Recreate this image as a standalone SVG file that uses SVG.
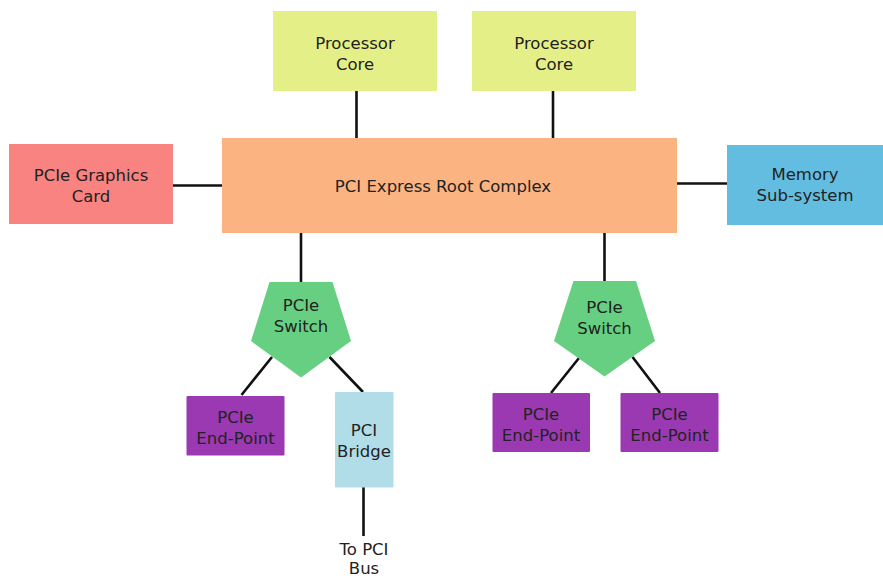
<svg xmlns="http://www.w3.org/2000/svg" width="883" height="579" viewBox="0 0 883 579">
<style>
text{font-family:"DejaVu Sans","Liberation Sans",sans-serif;font-size:16.5px;fill:#222;text-anchor:middle}
.c{stroke:#111;stroke-width:2.6;fill:none}
.proc{fill:#e4f087}.root{fill:#fbb382}.gfx{fill:#f98380}.mem{fill:#63bde0}
.sw{fill:#67cf81}.ep{fill:#9a39b1}.br{fill:#b1dde8}
</style>
<rect width="883" height="579" fill="#fff"/>
<g id="connectors">
<line class="c" x1="356.5" y1="90" x2="356.5" y2="138"/>
<line class="c" x1="553" y1="90" x2="553" y2="138"/>
<line class="c" x1="172" y1="185.5" x2="222" y2="185.5"/>
<line class="c" x1="677" y1="183.5" x2="727" y2="183.5"/>
<line class="c" x1="301" y1="232" x2="301" y2="282"/>
<line class="c" x1="604.5" y1="232" x2="604.5" y2="281"/>
<line class="c" x1="272" y1="357" x2="241.5" y2="395"/>
<line class="c" x1="329.5" y1="357" x2="363" y2="392"/>
<line class="c" x1="579" y1="358" x2="551" y2="393"/>
<line class="c" x1="632.5" y1="357" x2="660" y2="393"/>
<line class="c" x1="363.5" y1="487" x2="363.5" y2="536"/>
</g>
<g id="proc1"><rect class="proc" x="273" y="11" width="164" height="80"/><text x="355" y="49">Processor</text><text x="355" y="70">Core</text></g>
<g id="proc2"><rect class="proc" x="472" y="11" width="164" height="80"/><text x="554" y="49">Processor</text><text x="554" y="70">Core</text></g>
<g id="root"><rect class="root" x="222" y="138" width="455" height="95"/><text x="443" y="192">PCI Express Root Complex</text></g>
<g id="gfx"><rect class="gfx" x="9" y="144" width="164" height="80"/><text x="91" y="181">PCIe Graphics</text><text x="91" y="202">Card</text></g>
<g id="mem"><rect class="mem" x="727" y="145" width="156" height="80"/><text x="805" y="180">Memory</text><text x="805" y="201">Sub-system</text></g>
<g id="switch1"><polygon class="sw" points="269.5,282 332.5,282 351,341 301,377.5 251,341"/><text x="301" y="311">PCIe</text><text x="301" y="332">Switch</text></g>
<g id="switch2"><polygon class="sw" points="573.5,281 636,281 655,341 604.5,376.5 554,341"/><text x="604.5" y="313">PCIe</text><text x="604.5" y="334">Switch</text></g>
<g id="ep1"><rect class="ep" x="186.5" y="396" width="98" height="59.5" rx="1"/><text x="235.5" y="423">PCIe</text><text x="235.5" y="444">End-Point</text></g>
<g id="bridge"><rect class="br" x="335" y="392" width="58.5" height="95.5" rx="1"/><text x="364" y="436">PCI</text><text x="364" y="457">Bridge</text></g>
<g id="ep2"><rect class="ep" x="492.5" y="393" width="97.5" height="59" rx="1"/><text x="541" y="420">PCIe</text><text x="541" y="441">End-Point</text></g>
<g id="ep3"><rect class="ep" x="620.5" y="393" width="98" height="59" rx="1"/><text x="669.5" y="420">PCIe</text><text x="669.5" y="441">End-Point</text></g>
<g id="pcibus"><text x="364" y="555">To PCI</text><text x="364" y="574">Bus</text></g>
</svg>
